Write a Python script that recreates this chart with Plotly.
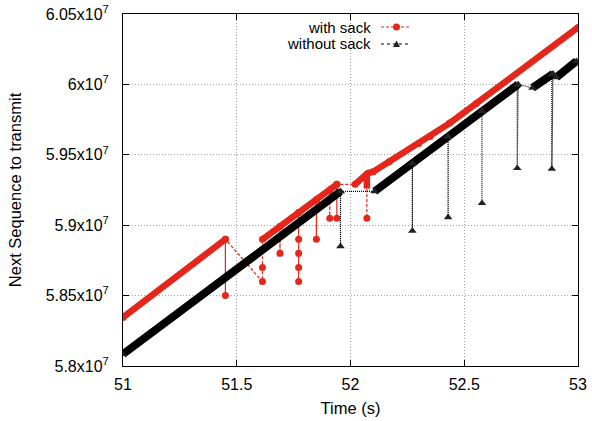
import plotly.graph_objects as go

# ---- data (time in s, sequence number) ----
# dense runs of packets ("with sack") drawn as a thick band
red_band_t = [51.0, 51.45, None, 51.613, 51.94, None, 52.02, 52.075, 52.10, 52.17, 52.30, 52.35, 52.436, 52.553, 53.0, None, 52.072, 52.072]
red_band_s = [5.8345e7, 5.890e7, None, 5.890e7, 5.929e7, None, 5.929e7, 5.937e7, 5.938e7, 5.945e7, 5.958e7, 5.963e7, 5.9725e7, 5.9865e7, 6.0405e7, None, 5.936e7, 5.926e7]
# every sample of "with sack" in time order (including retransmissions)
red_t = [51.0, 51.45, 51.45, 51.45, 51.613, 51.613, 51.613, 51.69, 51.69, 51.69,
         51.772, 51.772, 51.772, 51.772, 51.772, 51.772, 51.85, 51.85, 51.85,
         51.909, 51.909, 51.909, 51.94, 51.94, 51.94, 52.02, 52.072, 52.072, 52.072,
         52.10, 52.17, 52.30, 52.35, 52.436, 52.553, 53.0]
red_s = [5.8345e7, 5.890e7, 5.850e7, 5.890e7, 5.860e7, 5.870e7, 5.890e7, 5.899e7, 5.880e7, 5.899e7,
         5.909e7, 5.890e7, 5.880e7, 5.870e7, 5.860e7, 5.909e7, 5.918e7, 5.890e7, 5.918e7,
         5.925e7, 5.905e7, 5.925e7, 5.929e7, 5.905e7, 5.929e7, 5.929e7, 5.936e7, 5.905e7, 5.936e7,
         5.938e7, 5.945e7, 5.958e7, 5.963e7, 5.9725e7, 5.9865e7, 6.0405e7]

# "without sack"
blk_band_t = [51.0, 51.956, None, 52.106, 52.737, None, 52.80, 52.89, None, 52.905, 52.993]
blk_band_s = [5.8084e7, 5.924e7, None, 5.924e7, 6.0e7, None, 5.9975e7, 6.0075e7, None, 6.005e7, 6.0165e7]
blk_t = [51.0, 51.956, 51.956, 51.956, 52.106, 52.272, 52.272, 52.272, 52.429, 52.429, 52.429,
         52.578, 52.578, 52.578, 52.733, 52.733, 52.737, 52.80, 52.885, 52.885, 52.89, 52.905, 52.993]
blk_s = [5.8084e7, 5.924e7, 5.885e7, 5.924e7, 5.924e7, 5.944e7, 5.896e7, 5.944e7, 5.963e7, 5.9056e7, 5.963e7,
         5.981e7, 5.9156e7, 5.981e7, 5.9995e7, 5.9405e7, 6.0e7, 5.9975e7, 6.007e7, 5.940e7, 6.0075e7, 6.005e7, 6.0165e7]

x_ticks = [51, 51.5, 52, 52.5, 53]
x_ticktext = ["51", "51.5", "52", "52.5", "53"]
y_ticks = [5.8e7, 5.85e7, 5.9e7, 5.95e7, 6.0e7, 6.05e7]
y_ticktext = ["5.8x10<sup>7</sup>", "5.85x10<sup>7</sup>", "5.9x10<sup>7</sup>",
              "5.95x10<sup>7</sup>", "6x10<sup>7</sup>", "6.05x10<sup>7</sup>"]

RED = "#e5261b"
BLK = "#000000"
FONT = "Liberation Sans, Arial, sans-serif"

fig = go.Figure()
fig.add_trace(go.Scatter(x=red_band_t, y=red_band_s, mode="lines",
                         line=dict(color=RED, width=6.5), showlegend=False, hoverinfo="skip"))
fig.add_trace(go.Scatter(x=red_t, y=red_s, mode="lines+markers", name="with sack",
                         line=dict(color=RED, width=1.2, dash="3px,2px"),
                         marker=dict(symbol="circle", size=7, color=RED), showlegend=False))
fig.add_trace(go.Scatter(x=blk_band_t, y=blk_band_s, mode="lines",
                         line=dict(color=BLK, width=8), showlegend=False, hoverinfo="skip"))
fig.add_trace(go.Scatter(x=blk_t, y=blk_s, mode="lines+markers", name="without sack",
                         line=dict(color=BLK, width=1.2, dash="1px,1px"),
                         marker=dict(symbol="triangle-up", size=7.5, color="#222222"), showlegend=False))

axis_common = dict(showline=True, linecolor="black", linewidth=1, mirror="allticks",
                   ticks="inside", ticklen=6, tickcolor="black", automargin=False,
                   showgrid=True, gridcolor="#a0a0a0", griddash="1px,2px", gridwidth=1,
                   zeroline=False, tickfont=dict(family=FONT, size=16, color="black"))

fig.update_xaxes(range=[51, 53], tickvals=x_ticks, ticktext=x_ticktext,
                 title=dict(text="Time (s)", font=dict(family=FONT, size=16.5, color="black"), standoff=10),
                 ticklabelstandoff=4, **axis_common)
fig.update_yaxes(range=[5.8e7, 6.05e7], tickvals=y_ticks, ticktext=y_ticktext,
                 title=dict(text="Next Sequence to transmit", font=dict(family=FONT, size=16.5, color="black"), standoff=19),
                 ticklabelstandoff=10, **axis_common)

# legend (gnuplot style: text on the left, sample on the right)
def px_x(p):
    return (p - 123) / 455.0

def px_y(p):
    return (366 - p) / 352.0

shapes = []
annotations = []
for label, yy, color, dash in [("with sack", 27, RED, "3px,2px"), ("without sack", 44, BLK, "dot")]:
    annotations.append(dict(text=label, x=px_x(373), y=px_y(yy), xref="paper", yref="paper",
                            xanchor="right", yanchor="middle", showarrow=False,
                            font=dict(family=FONT, size=15, color="black")))
    shapes.append(dict(type="line", xref="paper", yref="paper", x0=px_x(381), x1=px_x(410),
                       y0=px_y(yy), y1=px_y(yy), line=dict(color=color, width=1.2, dash=dash)))
shapes.append(dict(type="circle", xref="paper", yref="paper", xsizemode="pixel", ysizemode="pixel",
                   xanchor=px_x(396.5), yanchor=px_y(27), x0=-3.5, x1=3.5, y0=-3.5, y1=3.5,
                   fillcolor=RED, line=dict(color=RED, width=0)))
shapes.append(dict(type="path", xref="paper", yref="paper", xsizemode="pixel", ysizemode="pixel",
                   xanchor=px_x(396.5), yanchor=px_y(44), path="M -3.5 -3 L 3.5 -3 L 0 3.5 Z",
                   fillcolor="#222222", line=dict(color="#222222", width=0)))

fig.update_layout(width=592, height=421, margin=dict(l=123, r=14, t=14, b=55),
                  paper_bgcolor="white", plot_bgcolor="white",
                  shapes=shapes, annotations=annotations,
                  font=dict(family=FONT, size=16, color="black"))

fig.write_html("out.html")
